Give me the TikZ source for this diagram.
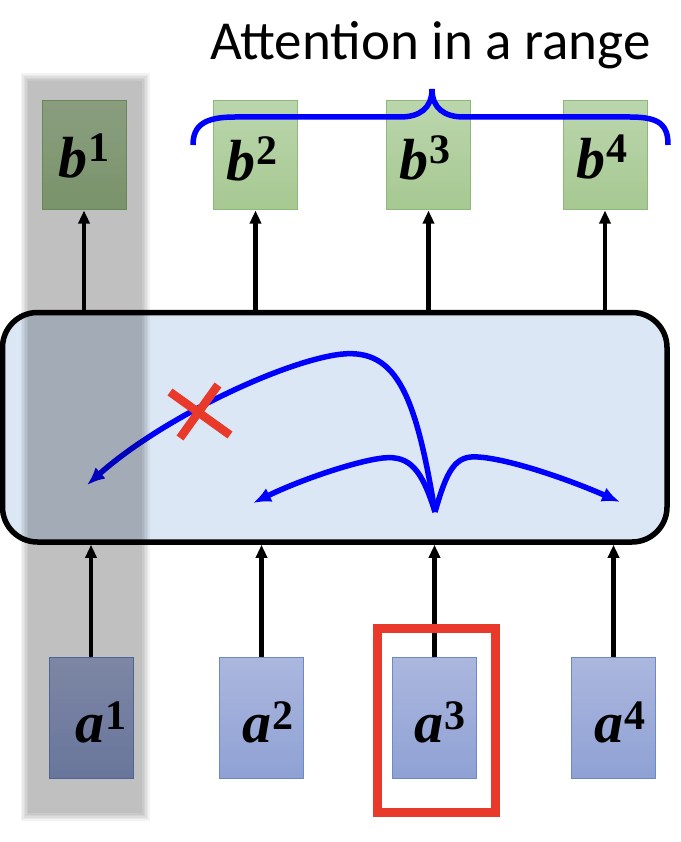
\documentclass[tikz,border=0pt]{standalone}
\usepackage{fontspec}
\newfontfamily\titlefont{Carlito}
\newfontfamily\labfont{Liberation Serif}
\usetikzlibrary{arrows.meta}
\definecolor{boxfill}{HTML}{DCE7F5}
\definecolor{btop}{HTML}{BBD6AD}
\definecolor{bbot}{HTML}{A6C891}
\definecolor{bborder}{HTML}{8DB87A}
\definecolor{atop}{HTML}{ABB7DE}
\definecolor{abot}{HTML}{8FA1D4}
\definecolor{aborder}{HTML}{6E88CC}
\definecolor{xred}{HTML}{E8392A}
\newcommand\mylab[3]{{\bfseries\itshape #1}\hspace{1pt}\raisebox{#3}{\fontsize{42}{44}\selectfont\bfseries\upshape #2}}
\begin{document}
\begin{tikzpicture}[x=1pt,y=-1pt,
  bbox/.style={draw=bborder, line width=1pt, top color=btop, bottom color=bbot, minimum width=84pt, minimum height=109pt, inner sep=0pt},
  abox/.style={draw=aborder, line width=1pt, top color=atop, bottom color=abot, minimum width=84pt, minimum height=121pt, inner sep=0pt},
  lbl/.style={anchor=base west, inner sep=0pt, font=\labfont\fontsize{58}{60}\selectfont},
  blk/.style={line width=4.5pt, -{Triangle[length=13pt,width=11pt]}},
  blu/.style={blue, line width=5.5pt, -{Latex[length=18pt,width=15pt]}},
  xline/.style={xred, line width=8.5pt}]
\useasboundingbox (0,0) rectangle (680,842);

% title
\node[anchor=base west, inner sep=0pt, font=\titlefont\fontsize{55}{60}\selectfont] (title) at (210,60) {Attention in a range};

% main box
\node[draw, line width=5.5pt, rounded corners=35pt, fill=boxfill, minimum width=664.5pt, minimum height=229.5pt, inner sep=0pt] (box) at (334.75,427.25) {};

% output boxes
\node[bbox] (b1) at (84,155.5) {};
\node[bbox] (b2) at (255.5,155.5) {};
\node[bbox] (b3) at (428.5,155.5) {};
\node[bbox] (b4) at (605,155.5) {};
\node[lbl] (lb1) at (58,178) {\mylab{b}{1}{16pt}};
\node[lbl] (lb2) at (226,181) {\mylab{b}{2}{16pt}};
\node[lbl] (lb3) at (399,180) {\mylab{b}{3}{16pt}};
\node[lbl] (lb4) at (576,179) {\mylab{b}{4}{16pt}};

% input boxes
\node[abox] (a1) at (91,717.5) {};
\node[abox] (a2) at (261.5,717.5) {};
\node[abox] (a3) at (434.5,717.5) {};
\node[abox] (a4) at (613.5,717.5) {};
\node[lbl] (la1) at (75,742) {\mylab{a}{1}{13pt}};
\node[lbl] (la2) at (242,742) {\mylab{a}{2}{13pt}};
\node[lbl] (la3) at (414,742) {\mylab{a}{3}{13pt}};
\node[lbl] (la4) at (594,742) {\mylab{a}{4}{13pt}};

% black arrows
\foreach \n in {1,2,3,4} {
  \draw[blk] (b\n.south |- box.north) -- (b\n.south);
  \draw[blk] (a\n.north) -- (a\n.north |- box.south);
}

% attention curves
\coordinate (src) at (435,512);
\coordinate (t1) at (87,485);
\coordinate (t2) at (253,503);
\coordinate (t4) at (620,502);
\draw[blu] (src) .. controls (415,390) and (395,345) .. (335,355)
  .. controls (275,365) and (160,420) .. (t1);
\draw[blu] (src) .. controls (422,470) and (410,455) .. (383,458)
  .. controls (356,461) and (300,480) .. (t2);
\draw[blu] (src) .. controls (447,470) and (455,455) .. (478,457)
  .. controls (510,459) and (570,480) .. (t4);

% red cross
\draw[xline] (170,392) -- (230,435);
\draw[xline] (218,385) -- (180,438);

% brace
\draw[blue, line width=5.5pt] (193,145) .. controls (193,125) and (205,117) .. (235,117)
  -- (400,117) .. controls (420,117) and (432,108) .. (432,89)
  .. controls (432,108) and (444,117) .. (464,117)
  -- (630,117) .. controls (660,117) and (668,125) .. (668,145);

% red selection rectangle
\node[draw=xred, line width=9pt, minimum width=118pt, minimum height=184pt, inner sep=0pt] (sel) at (436.5,720.5) {};

% gray band (soft edges)
\foreach \i in {0,...,5} {
  \fill[black, opacity=0.047] ({28-1.5*\i},{81-1.5*\i}) rectangle ({142+1.5*\i},{813+1.5*\i});
}
\end{tikzpicture}
\end{document}
